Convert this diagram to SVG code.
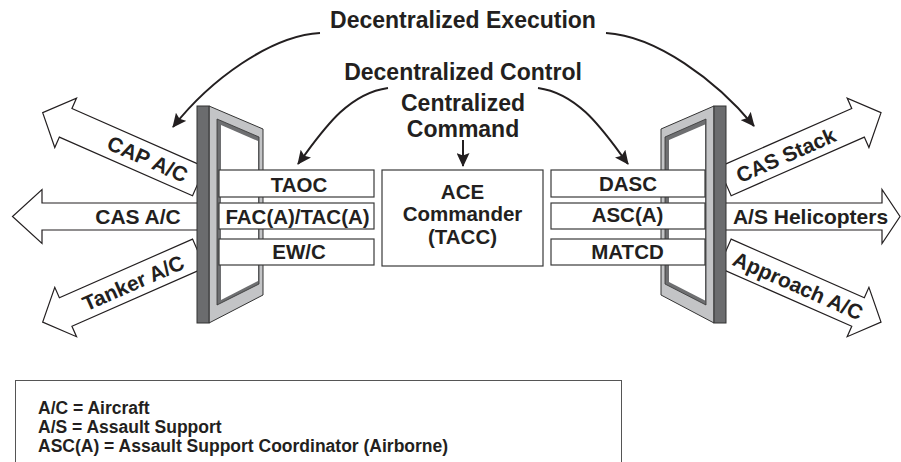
<svg xmlns="http://www.w3.org/2000/svg" width="901" height="462" viewBox="0 0 901 462">
<style>
text{font-family:"Liberation Sans",Arial,Helvetica,sans-serif;font-weight:bold;fill:#231f20;text-anchor:middle}
.h{font-size:23px}
.lbl{font-size:21px}
.bx{font-size:20.5px}
.lg{font-size:17.5px;text-anchor:start}
.arrow{fill:#fff;stroke:#231f20;stroke-width:1.2;stroke-linejoin:miter}
.box{fill:#fff;stroke:#3a3a3a;stroke-width:1.2}
.con{fill:none;stroke:#231f20;stroke-width:2}
.strip{fill:#6b6c6e;stroke:#333;stroke-width:1}
.panel{fill:#c3c4c6;stroke:#333;stroke-width:1}
.open{fill:#6e6f71;stroke:#333;stroke-width:0.8}
</style>
<defs>
<marker id="ah" viewBox="0 0 14 13" refX="13" refY="6.5" markerWidth="14" markerHeight="13" markerUnits="userSpaceOnUse" orient="auto">
<path d="M0,0 L14,6.5 L0,13 L2.5,6.5 z" fill="#231f20"/>
</marker>
</defs>

<g id="arrows-out">
<g id="cap-ac" transform="translate(197,180.6) rotate(23.75)">
<polygon class="arrow" points="2,-15.6 -143.5,-15.6 -143.5,-27 -168.6,0 -143.5,27 -143.5,15.6 2,15.6"/>
<text class="lbl" x="-54" y="7.5">CAP A/C</text>
</g>
<g id="cas-ac">
<polygon class="arrow" points="205,203 42,203 42,189.5 12.5,216.5 42,243.5 42,230 205,230"/>
<text class="lbl" x="138" y="223.5">CAS A/C</text>
</g>
<g id="tanker-ac" transform="translate(197,254.2) rotate(-23.75)">
<polygon class="arrow" points="2,-15.6 -143.5,-15.6 -143.5,-27 -168.6,0 -143.5,27 -143.5,15.6 2,15.6"/>
<text class="lbl" x="-70" y="8">Tanker A/C</text>
</g>
<g id="cas-stack" transform="translate(726.7,180.6) rotate(-23.75)">
<polygon class="arrow" points="-2,-15.6 143.5,-15.6 143.5,-27 168.6,0 143.5,27 143.5,15.6 -2,15.6"/>
<text class="lbl" x="64.5" y="8">CAS Stack</text>
</g>
<g id="as-helicopters">
<polygon class="arrow" points="718,203 882,203 882,189.5 900,216.5 882,243.5 882,230 718,230"/>
<text class="lbl" x="810.5" y="223.5">A/S Helicopters</text>
</g>
<g id="approach-ac" transform="translate(726.7,254.2) rotate(23.75)">
<polygon class="arrow" points="-2,-15.6 143.5,-15.6 143.5,-27 168.6,0 143.5,27 143.5,15.6 -2,15.6"/>
<text class="lbl" x="78" y="7.5">Approach A/C</text>
</g>
</g>

<g id="door-left">
<polygon class="panel" points="209,106 263,129 263,295 209,323"/>
<polygon class="open" points="217,119 259,137 259,284 217,305"/>
<polygon fill="#fff" points="221,125 258,141 258,281 221,300"/>
<rect class="strip" x="197" y="106" width="12" height="217"/>
</g>
<g id="door-right">
<polygon class="panel" points="714,106 661,129 661,295 714,323"/>
<polygon class="open" points="706,119 665,137 665,284 706,305"/>
<polygon fill="#fff" points="669,140 705,124.5 705,300.5 669,282"/>
<rect class="strip" x="714" y="106" width="12" height="217"/>
</g>

<g id="taoc"><rect class="box" x="219" y="170" width="155" height="27"/><text class="bx" x="299" y="191.5">TAOC</text></g>
<g id="faca"><rect class="box" x="219" y="203" width="155" height="26"/><text class="bx" x="297.5" y="223.5">FAC(A)/TAC(A)</text></g>
<g id="ewc"><rect class="box" x="219" y="239" width="155" height="26"/><text class="bx" x="299" y="259">EW/C</text></g>

<g id="ace"><rect class="box" x="382" y="170" width="161" height="96"/>
<text class="bx" x="462.5" y="198.5">ACE</text>
<text class="bx" x="462.5" y="221">Commander</text>
<text class="bx" x="462.5" y="243.5">(TACC)</text></g>

<g id="dasc"><rect class="box" x="551" y="170" width="154" height="27"/><text class="bx" x="628" y="191">DASC</text></g>
<g id="asca"><rect class="box" x="551" y="203" width="154" height="26"/><text class="bx" x="627.5" y="222">ASC(A)</text></g>
<g id="matcd"><rect class="box" x="551" y="239" width="154" height="26"/><text class="bx" x="627.5" y="258.5">MATCD</text></g>

<g id="headings">
<text class="h" x="463" y="28">Decentralized Execution</text>
<text class="h" x="463" y="80">Decentralized Control</text>
<text class="h" x="463" y="111">Centralized</text>
<text class="h" x="463" y="137">Command</text>
</g>

<g id="connectors">
<path class="con" d="M320,33 C270,36 210,80 173,127" marker-end="url(#ah)"/>
<path class="con" d="M606,33 C656,36 716,80 754,126" marker-end="url(#ah)"/>
<path class="con" d="M388,88 C345,94 320,135 298,164" marker-end="url(#ah)"/>
<path class="con" d="M538,88 C581,94 606,135 628,164" marker-end="url(#ah)"/>
<path class="con" d="M463,140 L463,166" marker-end="url(#ah)"/>
</g>

<g id="legend">
<rect x="15.5" y="380.5" width="606" height="100" fill="#fff" stroke="#555" stroke-width="1"/>
<text class="lg" x="38" y="414">A/C = Aircraft</text>
<text class="lg" x="38" y="433">A/S = Assault Support</text>
<text class="lg" x="38" y="452">ASC(A) = Assault Support Coordinator (Airborne)</text>
</g>
</svg>
